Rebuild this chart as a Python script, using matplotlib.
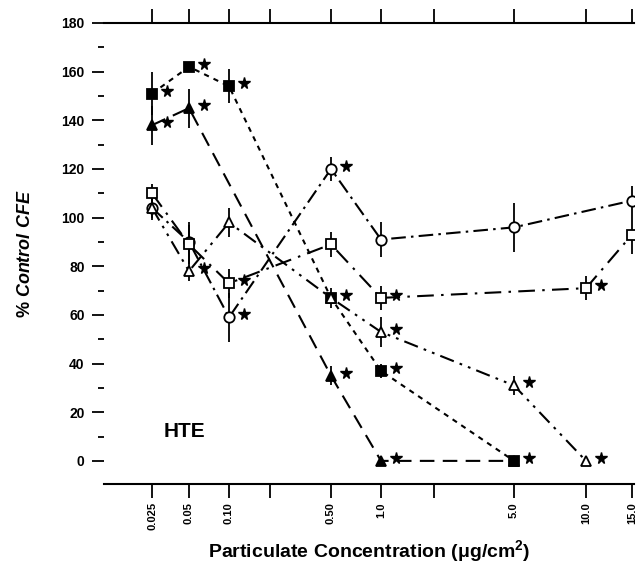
import numpy as np
import matplotlib
matplotlib.use("Agg")
import matplotlib.pyplot as plt
from matplotlib.transforms import offset_copy

plt.rcParams["font.family"] = ["Liberation Sans", "DejaVu Sans"]
plt.rcParams["font.weight"] = "bold"
plt.rcParams["mathtext.fontset"] = "custom"
plt.rcParams["mathtext.rm"] = "Liberation Sans:bold"
plt.rcParams["mathtext.it"] = "Liberation Sans:bold:italic"
plt.rcParams["mathtext.default"] = "rm"

# hand-drawn concentration axis: where each tick sits along the axis
axis_conc = [0.025, 0.05, 0.10, 0.25, 0.50, 1.0, 2.0, 5.0, 10.0, 15.0]
axis_pos = [48, 85, 125, 166, 227, 277, 330, 410, 482, 528]
tick_labels = ["0.025", "0.05", "0.10", "", "0.50", "1.0", "", "5.0", "10.0", "15.0"]

# filled squares
fsq_conc = [0.025, 0.05, 0.10, 0.50, 1.0, 5.0]
fsq_val = [151, 162, 154, 67, 37, 0]
fsq_err = [9, 2, 7, 4, 3, 0]
fsq_sig = [1, 1, 1, 1, 1, 1]

# filled triangles
ftr_conc = [0.025, 0.05, 0.50, 1.0, 5.0]
ftr_val = [138, 145, 35, 0, 0]
ftr_err = [8, 8, 4, 0, 0]
ftr_sig = [1, 1, 1, 1, 0]

# open circles
oci_conc = [0.025, 0.05, 0.10, 0.50, 1.0, 5.0, 15.0]
oci_val = [104, 90, 59, 120, 91, 96, 107]
oci_err = [5, 8, 10, 5, 7, 10, 6]
oci_sig = [0, 0, 1, 1, 0, 0, 0]

# open squares
osq_conc = [0.025, 0.05, 0.10, 0.50, 1.0, 10.0, 15.0]
osq_val = [110, 89, 73, 89, 67, 71, 93]
osq_err = [4, 8, 6, 5, 5, 5, 8]
osq_sig = [0, 0, 1, 0, 1, 1, 0]

# open triangles
otr_conc = [0.025, 0.05, 0.10, 0.50, 1.0, 5.0, 10.0]
otr_val = [104, 78, 98, 67, 53, 31, 0]
otr_err = [4, 4, 6, 0, 6, 4, 0]
otr_sig = [0, 1, 0, 0, 1, 1, 1]


def xpos(conc):
    return np.interp(np.log10(conc), np.log10(axis_conc), axis_pos)


fig = plt.figure(figsize=(6.38, 5.71), dpi=100)
ax = fig.add_axes([104 / 638, (571 - 484) / 571, 530 / 638, 461 / 571])

star_tr = offset_copy(ax.transData, fig=fig, x=15, y=3, units="dots")

series = [
    (fsq_conc, fsq_val, fsq_err, fsq_sig, "s", "black", (0, (2.5, 2.5))),
    (ftr_conc, ftr_val, ftr_err, ftr_sig, "^", "black", (0, (7, 4))),
    (oci_conc, oci_val, oci_err, oci_sig, "o", "white", (0, (7, 2.5, 1.2, 2.5))),
    (osq_conc, osq_val, osq_err, osq_sig, "s", "white", (0, (8, 3.5, 1.2, 3.5))),
    (otr_conc, otr_val, otr_err, otr_sig, "^", "white", (0, (7, 3, 1.3, 3, 1.3, 3))),
]

# lines and error bars first, then markers over everything
for conc, val, err, sig, mk, fc, ls in series:
    x = xpos(conc)
    ax.plot(x, val, color="black", lw=1.5, ls=ls, zorder=2)
    ax.errorbar(x, val, yerr=err, fmt="none", ecolor="black", elinewidth=1.3,
                capsize=0, zorder=3)

for conc, val, err, sig, mk, fc, ls in series:
    x = xpos(conc)
    ax.plot(x, val, ls="none", marker=mk, ms=7.5, mfc=fc, mec="black",
            mew=1.3, zorder=4)
    sig = np.array(sig, dtype=bool)
    ax.plot(x[sig], np.array(val)[sig], ls="none", marker="*", ms=8.5,
            color="black", transform=star_tr, zorder=5)

ax.set_xlim(0, 530)
ax.set_ylim(-9.5, 180)

ax.set_xticks(xpos(axis_conc))
ax.set_xticklabels(tick_labels, rotation=90, fontsize=8, fontweight="bold")
ax.xaxis.get_major_ticks()[0].tick1line.set_visible(False)
ax.xaxis.get_major_ticks()[0].tick2line.set_visible(False)
ax.tick_params(axis="x", direction="out", length=10, width=1.3, pad=3,
               top=True, bottom=True)

ax.set_yticks(np.arange(0, 181, 20))
ax.set_yticks(np.arange(10, 180, 20), minor=True)
ax.tick_params(axis="y", which="major", direction="out", length=9, width=1.3,
               labelsize=10, pad=5)
ax.tick_params(axis="y", which="minor", direction="out", length=4, width=1.3)
for lbl in ax.get_yticklabels():
    lbl.set_fontweight("bold")

for side in ("left", "right"):
    ax.spines[side].set_visible(False)
for side in ("top", "bottom"):
    ax.spines[side].set_linewidth(1.5)

ax.set_xlabel(r"Particulate Concentration ($\mu$g/cm$^{2}$)", fontsize=14,
              fontweight="bold", labelpad=6)
ax.set_ylabel(r"% $\it{Control\ CFE}$", fontsize=13, fontweight="bold",
              labelpad=20)

ax.text(xpos(0.025) + 12, 12, "HTE", fontsize=15, fontweight="bold",
        va="center", ha="left")

fig.savefig("out.png", dpi=100)
